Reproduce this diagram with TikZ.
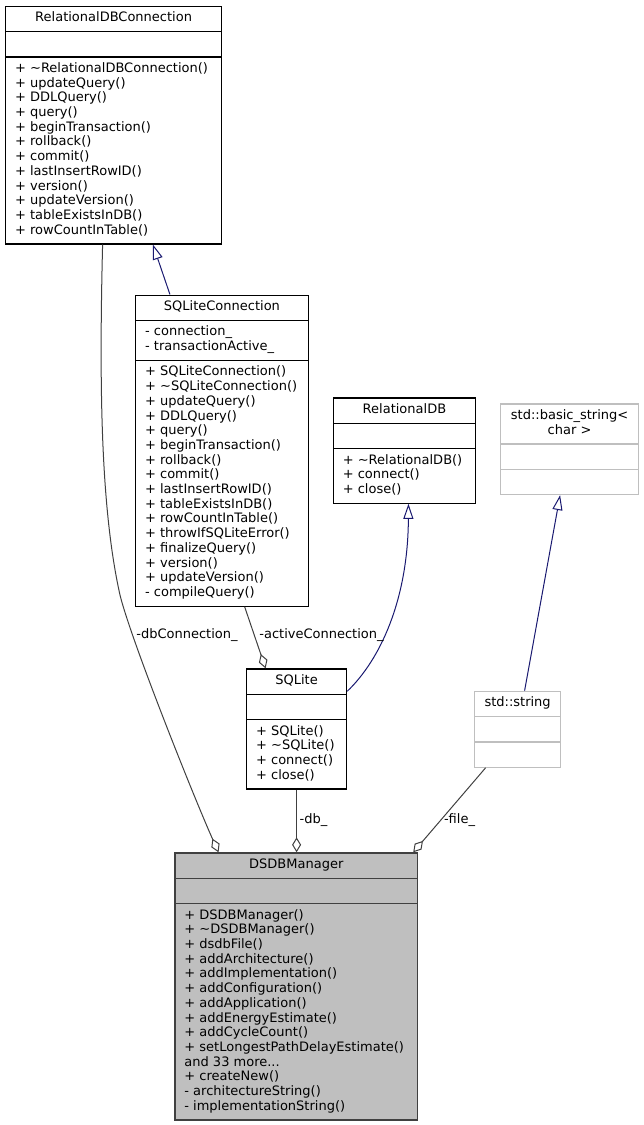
\documentclass[tikz,border=0pt]{standalone}
\usepackage{fontspec}
\setmainfont{DejaVu Sans}
\usepackage{tikz}
\usetikzlibrary{shapes.multipart, arrows.meta}
\definecolor{edgegray}{HTML}{404040}
\definecolor{inhblue}{HTML}{191970}
\definecolor{boxgray}{HTML}{BFBFBF}
\tikzstyle{umlclass} = [rectangle split, rectangle split parts=3, rectangle split part align={center,left,left}, draw=black, line width=1.2pt, anchor=north west, inner xsep=9.5pt, inner ysep=4.7pt, align=left, font=\fontsize{13}{14.7}\selectfont]
\tikzstyle{extclass} = [umlclass, draw=boxgray]
\tikzstyle{mainclass} = [umlclass, draw=edgegray, fill=boxgray]
\tikzstyle{aggr} = [line width=1pt, draw=edgegray, -{Diamond[open,length=15pt,width=9pt]}]
\tikzstyle{inherit} = [line width=1pt, draw=inhblue, -{Triangle[open,length=15pt,width=10pt]}]
\tikzstyle{lbl} = [font=\fontsize{13}{14.7}\selectfont, inner sep=0pt]

\begin{document}
\begin{tikzpicture}[x=1pt, y=-1pt]
\useasboundingbox (0,0) rectangle (644,1125);

\node (rdbconn) [umlclass, minimum width=216pt] at (5,5.7) {\strut RelationalDBConnection
  \nodepart{two}\strut
  \nodepart{three}\strut + \textasciitilde RelationalDBConnection()\\
  + updateQuery()\\
  + DDLQuery()\\
  + query()\\
  + beginTransaction()\\
  + rollback()\\
  + commit()\\
  + lastInsertRowID()\\
  + version()\\
  + updateVersion()\\
  + tableExistsInDB()\\
  + rowCountInTable()\strut};

\node (sqlconn) [umlclass, minimum width=172.7pt] at (135,294.5) {\strut SQLiteConnection
  \nodepart{two}\strut - connection\_\\
  - transactionActive\_\strut
  \nodepart{three}\strut + SQLiteConnection()\\
  + \textasciitilde SQLiteConnection()\\
  + updateQuery()\\
  + DDLQuery()\\
  + query()\\
  + beginTransaction()\\
  + rollback()\\
  + commit()\\
  + lastInsertRowID()\\
  + tableExistsInDB()\\
  + rowCountInTable()\\
  + throwIfSQLiteError()\\
  + finalizeQuery()\\
  + version()\\
  + updateVersion()\\
  - compileQuery()\strut};

\node (reldb) [umlclass, minimum width=142.3pt] at (332.7,397.3) {\strut RelationalDB
  \nodepart{two}\strut
  \nodepart{three}\strut + \textasciitilde RelationalDB()\\
  + connect()\\
  + close()\strut};

\node (basicstr) [extclass, align=center, minimum width=138pt] at (500,403.3) {\strut std::basic\_string<\\
  char >\strut
  \nodepart{two}\strut
  \nodepart{three}\strut};

\node (sqlite) [umlclass, minimum width=100pt] at (246,668.3) {\strut SQLite
  \nodepart{two}\strut
  \nodepart{three}\strut + SQLite()\\
  + \textasciitilde SQLite()\\
  + connect()\\
  + close()\strut};

\node (stdstr) [extclass, minimum width=86pt] at (474,690.7) {\strut std::string
  \nodepart{two}\strut
  \nodepart{three}\strut};

\node (dsdbmgr) [mainclass, minimum width=242.7pt] at (174.3,852.3) {\strut DSDBManager
  \nodepart{two}\strut
  \nodepart{three}\strut + DSDBManager()\\
  + \textasciitilde DSDBManager()\\
  + dsdbFile()\\
  + addArchitecture()\\
  + addImplementation()\\
  + addConfiguration()\\
  + addApplication()\\
  + addEnergyEstimate()\\
  + addCycleCount()\\
  + setLongestPathDelayEstimate()\\
  and 33 more...\\
  + createNew()\\
  - architectureString()\\
  - implementationString()\strut};

% inheritance
\draw [inherit] ([xshift=-52pt]sqlconn.north) -- ([xshift=39.3pt]rdbconn.south);
\draw [inherit] ([yshift=-23pt]sqlite.north east) .. controls (380,660) and (408,600) .. ([xshift=4pt]reldb.south);
\draw [inherit] ([xshift=7pt]stdstr.north) -- ([xshift=-9.5pt]basicstr.south);

% aggregation
\draw [aggr] ([xshift=-11pt]rdbconn.south) .. controls (99,390) and (101,510) .. (120,595) .. controls (131,640) and (195,800) .. ([xshift=-77.7pt]dsdbmgr.north);
\draw [aggr] ([xshift=22.7pt]sqlconn.south) -- ([xshift=-31pt]sqlite.north);
\draw [aggr] (sqlite.south) -- (sqlite.south |- dsdbmgr.north);
\draw [aggr] ([xshift=-32pt]stdstr.south) -- ([xshift=-5pt]dsdbmgr.north east);

\node (lbldbconn) [lbl] at (187,635) {-dbConnection\_};
\node (lblactive) [lbl] at (321.5,635) {-activeConnection\_};
\node (lbldb) [lbl] at (313.5,820) {-db\_};
\node (lblfile) [lbl] at (459.5,820) {-file\_};

\end{tikzpicture}
\end{document}
